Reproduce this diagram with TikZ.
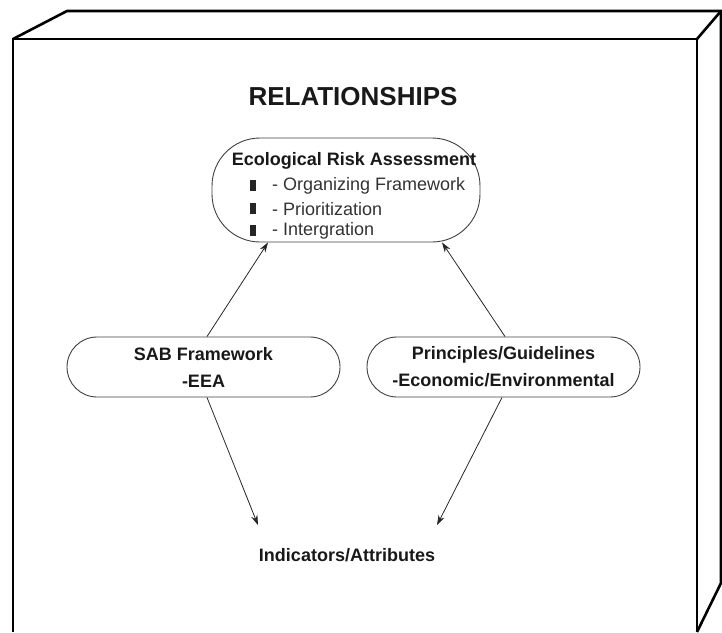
\documentclass[tikz,border=0pt]{standalone}
\usepackage{fontspec}
\setmainfont{Liberation Sans}
\usetikzlibrary{arrows.meta}
\begin{document}
\begin{tikzpicture}[x=1pt,y=-1pt,
  edge/.style={line width=2.6pt, line join=miter, black},
  pill/.style={draw=black!75, line width=0.9pt, rounded corners=#1, inner sep=0},
  lbl/.style={font=\fontsize{18}{27}\selectfont\bfseries, align=center, inner sep=0, text=black!90},
  item/.style={font=\fontsize{18}{21}\selectfont, anchor=west, inner sep=0, text=black!80},
  bullet/.style={fill=black!85, minimum width=6pt, minimum height=11pt, inner sep=0},
  link/.style={line width=0.8pt, black!85, -{Stealth[length=10pt,width=6.5pt]}}]
\useasboundingbox (0,0) rectangle (722,632);

% the open crate: front face and its receding top and side
\draw[edge] (13,632) -- (13,39) -- (697,39) -- (697,632);
\draw[edge] (13,39) -- (67,11) -- (721,11) -- (721,583) -- (697,632);
\draw[edge] (697,39) -- (721,11);

% heading
\node[font=\fontsize{26}{28}\selectfont\bfseries, text=black!90] (title) at (353,97) {RELATIONSHIPS};

% central assessment bubble with its list
\node[pill=48pt, minimum width=268pt, minimum height=104pt] (era) at (346,190) {};
\node[lbl] (eratitle) at (354,161) {Ecological Risk Assessment};
\node[bullet] (b1) at (253,185) {};
\node[bullet] (b2) at (253,208) {};
\node[bullet] (b3) at (253,230) {};
\node[item] (i1) at (272,186) {- Organizing Framework};
\node[item] (i2) at (272,209) {- Prioritization};
\node[item] (i3) at (272,231) {- Intergration};

% side bubbles
\node[pill=30pt, lbl, minimum width=273pt, minimum height=60pt] (sab) at (203.5,367) {SAB Framework\\-EEA};
\node[pill=30pt, lbl, minimum width=273pt, minimum height=60pt] (pri) at (503.5,367) {Principles/Guidelines\\-Economic/Environmental};

% bottom label
\node[lbl] (ind) at (347,555) {Indicators/Attributes};

% connectors
\draw[link] ([xshift=3.5pt]sab.north) -- ([xshift=-78pt]era.south);
\draw[link] ([xshift=1.5pt]pri.north) -- ([xshift=96pt]era.south);
\draw[link] ([xshift=3.5pt]sab.south) -- ([xshift=-89pt,yshift=23pt]ind.north);
\draw[link] ([xshift=-1.5pt]pri.south) -- ([xshift=90pt,yshift=23pt]ind.north);
\end{tikzpicture}
\end{document}
